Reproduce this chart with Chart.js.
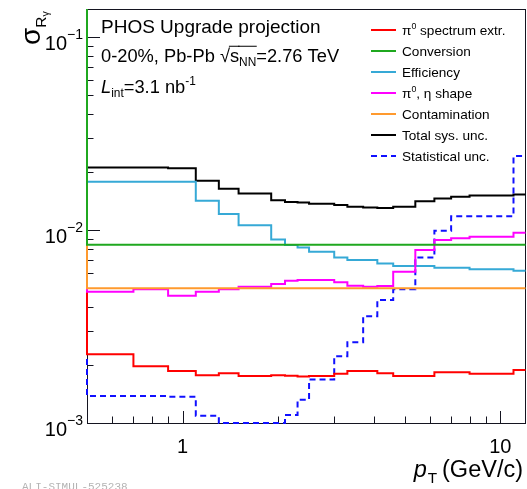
<!DOCTYPE html>
<html>
<head>
<meta charset="utf-8">
<script src="https://cdn.jsdelivr.net/npm/chart.js@4/dist/chart.umd.min.js"></script>
<style>
  html, body { margin: 0; padding: 0; background: #fff; }
  canvas { display: block; }
</style>
</head>
<body>
<canvas id="sysChart" width="527" height="489"></canvas>
<script>
// pT bin edges (GeV/c), 21 bins
const binEdges = [0.5, 0.7, 0.9, 1.1, 1.3, 1.5, 1.7, 1.9, 2.1, 2.3, 2.5, 3.0, 3.3, 3.7, 4.1, 4.6, 5.4, 6.2, 7.0, 8.0, 11.0, 12.0];

// relative uncertainties per bin
const spectrumExtr = [0.00227, 0.00197, 0.00186, 0.00177, 0.00181, 0.00175, 0.00175, 0.00177, 0.00176, 0.00174, 0.00175, 0.00180, 0.00186, 0.00186, 0.00181, 0.00175, 0.00175, 0.00183, 0.00183, 0.00180, 0.00188];
const conversion = [0.0084, 0.0084, 0.0084, 0.0084, 0.0084, 0.0084, 0.0084, 0.0084, 0.0084, 0.0084, 0.0084, 0.0084, 0.0084, 0.0084, 0.0084, 0.0084, 0.0084, 0.0084, 0.0084, 0.0084, 0.0084];
const efficiency = [0.0178, 0.0178, 0.0178, 0.0142, 0.0121, 0.0106, 0.0106, 0.00895, 0.00836, 0.00813, 0.00772, 0.00722, 0.00699, 0.00699, 0.00672, 0.00651, 0.00651, 0.00638, 0.00638, 0.00626, 0.00615];
const shapeUnc = [0.00479, 0.00493, 0.00457, 0.00479, 0.00493, 0.00508, 0.00508, 0.00525, 0.00546, 0.00551, 0.00551, 0.00536, 0.00515, 0.00508, 0.00513, 0.00608, 0.00788, 0.00888, 0.00906, 0.00923, 0.00968];
const contamination = [0.005, 0.005, 0.005, 0.005, 0.005, 0.005, 0.005, 0.005, 0.005, 0.005, 0.005, 0.005, 0.005, 0.005, 0.005, 0.005, 0.005, 0.005, 0.005, 0.005, 0.005];
const totalSys = [0.0211, 0.0211, 0.0209, 0.0180, 0.0164, 0.0155, 0.0155, 0.0143, 0.0140, 0.0139, 0.0137, 0.0135, 0.0132, 0.0131, 0.0130, 0.0132, 0.0141, 0.0146, 0.0149, 0.0151, 0.0153];
const statUnc = [0.00138, 0.00138, 0.00137, 0.00109, 0.001, 0.001, 0.001, 0.001, 0.0011, 0.00132, 0.00168, 0.00222, 0.00262, 0.00358, 0.00434, 0.00493, 0.00722, 0.00992, 0.0118, 0.0118, 0.0242];

const seriesLabels = ['π^0 spectrum extr.', 'Conversion', 'Efficiency', 'π^0, η shape', 'Contamination', 'Total sys. unc.', 'Statistical unc.'];

const X_MIN = 0.5, X_MAX = 12;
const Y_MIN = 0.001, Y_MAX = 0.14;
const FONT = '"Liberation Sans", Arial, Helvetica, sans-serif';

// ROOT-style histogram outline: vertical at the first edge, then one step per bin
function histPoints(values) {
  const pts = [{ x: binEdges[0], y: Y_MAX }];
  values.forEach(function (v, i) {
    pts.push({ x: binEdges[i], y: v });
  });
  pts.push({ x: binEdges[binEdges.length - 1], y: values[values.length - 1] });
  return pts;
}

function histDataset(label, values, color, order, dash) {
  return {
    label: label,
    data: histPoints(values),
    borderColor: color,
    borderWidth: 2,
    borderDash: dash || [],
    stepped: 'before',
    pointRadius: 0,
    fill: false,
    order: order,
    clip: 4
  };
}

// small TLatex-like text: ^x / ^{..} superscript, _x / _{..} subscript
function parseRich(str) {
  const runs = [];
  let buf = '';
  let i = 0;
  while (i < str.length) {
    const c = str[i];
    if (c === '^' || c === '_') {
      if (buf) { runs.push({ text: buf }); buf = ''; }
      let t;
      if (str[i + 1] === '{') {
        const j = str.indexOf('}', i);
        t = str.slice(i + 2, j);
        i = j + 1;
      } else {
        t = str[i + 1];
        i += 2;
      }
      runs.push({ text: t, scale: 0.65, dy: c === '^' ? -0.42 : 0.22 });
    } else {
      buf += c;
      i++;
    }
  }
  if (buf) runs.push({ text: buf });
  return runs;
}

function runFont(r, size) {
  return (r.italic ? 'italic ' : '') + (size * (r.scale || 1)).toFixed(1) + 'px ' + FONT;
}

function richWidth(ctx, runs, size) {
  let w = 0;
  runs.forEach(function (r) {
    ctx.font = runFont(r, size);
    w += ctx.measureText(r.text).width + (r.gap || 0);
  });
  return w;
}

function drawRich(ctx, x, y, runs, size, color, align) {
  if (align === 'right') x -= richWidth(ctx, runs, size);
  ctx.fillStyle = color;
  ctx.textBaseline = 'alphabetic';
  ctx.textAlign = 'left';
  let cx = x;
  runs.forEach(function (r) {
    ctx.font = runFont(r, size);
    const w = ctx.measureText(r.text).width;
    const ry = y + (r.dy || 0) * size;
    ctx.fillText(r.text, cx, ry);
    if (r.over) {
      ctx.strokeStyle = color;
      ctx.lineWidth = 1;
      ctx.beginPath();
      ctx.moveTo(cx - 1, y - size * 0.86);
      ctx.lineTo(cx + w + 0.5, y - size * 0.86);
      ctx.stroke();
    }
    cx += w + (r.gap || 0);
  });
}

const rootStyle = {
  id: 'rootStyle',
  beforeDatasetsDraw: function (chart) {
    const ctx = chart.ctx;
    const area = chart.chartArea;
    const xs = chart.scales.x;
    const ys = chart.scales.y;
    ctx.save();
    ctx.strokeStyle = '#141420';
    ctx.lineWidth = 1;
    ctx.strokeRect(Math.round(area.left) + 0.5, Math.round(area.top) + 0.5,
      Math.round(area.right - area.left) - 1, Math.round(area.bottom - area.top));

    // inner tick marks on the left and bottom axes
    ctx.beginPath();
    for (let n = -3; n <= -1; n++) {
      for (let k = 1; k <= 9; k++) {
        const v = k * Math.pow(10, n);
        if (v < Y_MIN || v > Y_MAX) continue;
        const py = Math.round(ys.getPixelForValue(v)) + 0.5;
        const len = k === 1 ? 13 : 6.5;
        ctx.moveTo(area.left, py);
        ctx.lineTo(area.left + len, py);
      }
    }
    for (let n = -1; n <= 1; n++) {
      for (let k = 1; k <= 9; k++) {
        const v = k * Math.pow(10, n);
        if (v <= X_MIN || v >= X_MAX) continue;
        const px = Math.round(xs.getPixelForValue(v)) + 0.5;
        const len = k === 1 ? 12 : 6.5;
        ctx.moveTo(px, area.bottom);
        ctx.lineTo(px, area.bottom - len);
      }
    }
    ctx.stroke();
    ctx.restore();
  },
  afterDatasetsDraw: function (chart) {
    const ctx = chart.ctx;
    const area = chart.chartArea;
    const xs = chart.scales.x;
    const ys = chart.scales.y;
    const ink = '#000';
    ctx.save();

    // y tick labels 10^-n
    [-3, -2, -1].forEach(function (n) {
      const py = ys.getPixelForValue(Math.pow(10, n));
      const runs = [{ text: '10' }, { text: '\u2212' + (-n), scale: 0.7, dy: -0.55 }];
      drawRich(ctx, area.left - 4, py + 12.5, runs, 20, ink, 'right');
    });

    // x tick labels
    ctx.font = '20px ' + FONT;
    ctx.fillStyle = ink;
    ctx.textAlign = 'center';
    ctx.textBaseline = 'alphabetic';
    [1, 10].forEach(function (v) {
      ctx.fillText(String(v), xs.getPixelForValue(v), area.bottom + 30);
    });

    // axis titles
    drawRich(ctx, 523, 477, [
      { text: 'p', italic: true, gap: 1 },
      { text: 'T', scale: 0.65, dy: 0.25, gap: 5 },
      { text: '(GeV/c)' }
    ], 23.5, ink, 'right');

    ctx.save();
    ctx.translate(40, 45);
    ctx.rotate(-Math.PI / 2);
    drawRich(ctx, 0, 0, [
      { text: 'σ' },
      { text: 'R', scale: 0.55, dy: 0.2 },
      { text: 'γ', scale: 0.38, dy: 0.32 }
    ], 28, ink, 'left');
    ctx.restore();

    // header text
    drawRich(ctx, 101, 33, [{ text: 'PHOS Upgrade projection' }], 19, ink);
    drawRich(ctx, 101, 62, [
      { text: '0-20%, Pb-Pb ' },
      { text: '√' },
      { text: 's', over: true },
      { text: 'NN', scale: 0.65, dy: 0.22, over: true },
      { text: '=2.76 TeV' }
    ], 18.3, ink);
    drawRich(ctx, 101, 93, [
      { text: 'L', italic: true },
      { text: 'int', scale: 0.65, dy: 0.22 },
      { text: '=3.1 nb' },
      { text: '-1', scale: 0.65, dy: -0.42 }
    ], 18.3, ink);

    // legend
    chart.data.datasets.forEach(function (ds, i) {
      const cy = 30 + i * 21;
      ctx.strokeStyle = ds.borderColor;
      ctx.lineWidth = 2;
      ctx.setLineDash(ds.borderDash || []);
      ctx.beginPath();
      ctx.moveTo(371, cy);
      ctx.lineTo(396, cy);
      ctx.stroke();
      ctx.setLineDash([]);
      drawRich(ctx, 402, cy + 5, parseRich(ds.label), 13.6, ink);
    });

    // figure id
    ctx.font = '11px "Liberation Mono", monospace';
    ctx.fillStyle = '#b4b4b4';
    ctx.textAlign = 'left';
    ctx.textBaseline = 'top';
    ctx.fillText('ALI-SIMUL-525238', 22, 482);
    ctx.restore();
  }
};

// drawing order on the left edge: green above orange, magenta, red, blue
const datasets = [
  histDataset(seriesLabels[0], spectrumExtr, '#ff0000', 3),
  histDataset(seriesLabels[1], conversion, '#1fa81f', 0),
  histDataset(seriesLabels[2], efficiency, '#36a9d6', 5),
  histDataset(seriesLabels[3], shapeUnc, '#ff00ff', 2),
  histDataset(seriesLabels[4], contamination, '#ff9a2e', 1),
  histDataset(seriesLabels[5], totalSys, '#000000', 6),
  histDataset(seriesLabels[6], statUnc, '#1010ff', 4, [6, 4])
];

new Chart(document.getElementById('sysChart'), {
  type: 'line',
  data: { datasets: datasets },
  options: {
    responsive: false,
    animation: false,
    devicePixelRatio: 1,
    layout: { padding: { left: 87, top: 9, right: 1.5, bottom: 66 } },
    plugins: {
      legend: { display: false },
      tooltip: { enabled: false }
    },
    scales: {
      x: {
        type: 'logarithmic',
        min: X_MIN,
        max: X_MAX,
        ticks: { display: false },
        grid: { display: false, drawTicks: false },
        border: { display: false },
        afterFit: function (s) { s.height = 0; }
      },
      y: {
        type: 'logarithmic',
        min: Y_MIN,
        max: Y_MAX,
        ticks: { display: false },
        grid: { display: false, drawTicks: false },
        border: { display: false },
        afterFit: function (s) { s.width = 0; }
      }
    }
  },
  plugins: [rootStyle]
});
</script>
</body>
</html>
